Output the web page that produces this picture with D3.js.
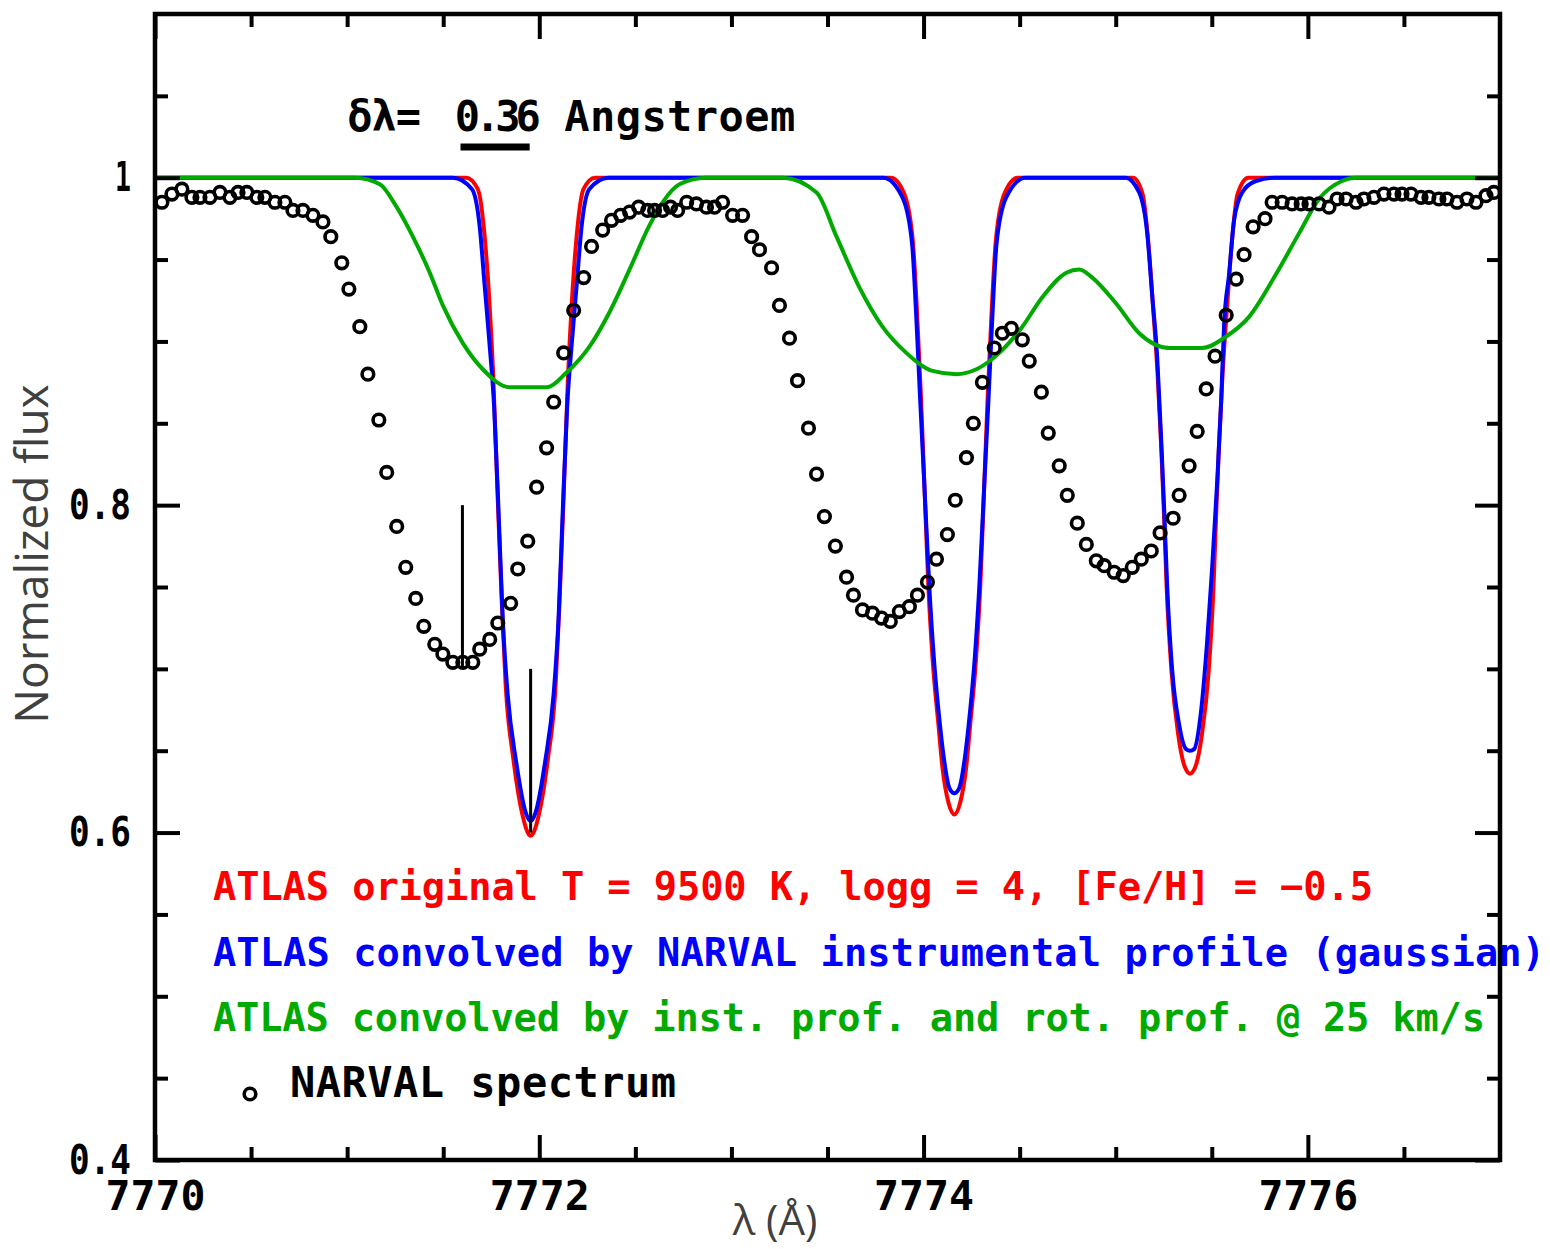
<!DOCTYPE html>
<html>
<head>
<meta charset="utf-8">
<script src="https://cdn.jsdelivr.net/npm/d3@7"></script>
<style>
  body { margin: 0; background: #fff; }
</style>
</head>
<body>
<script>
// NARVAL observed spectrum: [wavelength (Å), normalized flux]
const narval = [
  [7770.036,0.985],[7770.088,0.990],[7770.140,0.993],[7770.192,0.988],[7770.234,0.988],
  [7770.286,0.988],[7770.338,0.991],[7770.390,0.988],[7770.432,0.991],[7770.478,0.991],
  [7770.530,0.988],[7770.572,0.988],[7770.624,0.985],[7770.676,0.985],[7770.718,0.980],
  [7770.770,0.980],[7770.822,0.977],[7770.874,0.973],[7770.915,0.964],[7770.972,0.948],
  [7771.009,0.932],[7771.066,0.909],[7771.108,0.880],[7771.165,0.852],[7771.206,0.820],
  [7771.258,0.787],[7771.305,0.762],[7771.357,0.743],[7771.399,0.726],[7771.456,0.715],
  [7771.498,0.709],[7771.550,0.704],[7771.602,0.704],[7771.654,0.704],[7771.690,0.712],
  [7771.742,0.718],[7771.784,0.728],[7771.851,0.740],[7771.888,0.761],[7771.940,0.778],
  [7771.986,0.811],[7772.038,0.835],[7772.075,0.863],[7772.127,0.893],[7772.179,0.919],
  [7772.231,0.939],[7772.272,0.958],[7772.330,0.968],[7772.376,0.974],[7772.423,0.977],
  [7772.470,0.979],[7772.517,0.982],[7772.564,0.980],[7772.600,0.980],[7772.642,0.980],
  [7772.683,0.982],[7772.720,0.980],[7772.767,0.985],[7772.818,0.984],[7772.870,0.982],
  [7772.912,0.982],[7772.954,0.985],[7773.006,0.977],[7773.058,0.977],[7773.105,0.964],
  [7773.146,0.956],[7773.209,0.945],[7773.250,0.922],[7773.302,0.902],[7773.344,0.876],
  [7773.401,0.847],[7773.443,0.819],[7773.484,0.793],[7773.541,0.775],[7773.599,0.756],
  [7773.635,0.745],[7773.682,0.736],[7773.734,0.734],[7773.781,0.731],[7773.827,0.729],
  [7773.874,0.735],[7773.926,0.738],[7773.968,0.745],[7774.020,0.753],[7774.067,0.767],
  [7774.124,0.782],[7774.165,0.803],[7774.223,0.829],[7774.259,0.850],[7774.306,0.875],
  [7774.368,0.896],[7774.410,0.905],[7774.457,0.908],[7774.514,0.901],[7774.550,0.888],
  [7774.613,0.869],[7774.649,0.844],[7774.706,0.824],[7774.748,0.806],[7774.800,0.789],
  [7774.847,0.776],[7774.899,0.766],[7774.940,0.763],[7774.992,0.759],[7775.039,0.757],
  [7775.086,0.762],[7775.133,0.767],[7775.185,0.772],[7775.231,0.783],[7775.299,0.792],
  [7775.330,0.806],[7775.382,0.824],[7775.424,0.845],[7775.471,0.871],[7775.517,0.891],
  [7775.575,0.916],[7775.627,0.938],[7775.668,0.953],[7775.715,0.970],[7775.777,0.975],
  [7775.814,0.985],[7775.866,0.985],[7775.918,0.984],[7775.965,0.984],[7776.006,0.984],
  [7776.058,0.984],[7776.110,0.982],[7776.152,0.987],[7776.199,0.987],[7776.251,0.985],
  [7776.292,0.987],[7776.344,0.988],[7776.396,0.990],[7776.448,0.990],[7776.490,0.990],
  [7776.537,0.990],[7776.589,0.988],[7776.630,0.988],[7776.682,0.987],[7776.724,0.987],
  [7776.776,0.985],[7776.828,0.987],[7776.875,0.985],[7776.927,0.989],[7776.968,0.991]
]

// ATLAS original model
const atlasRed = [
  [7770.00,1.000],[7771.62,1.000],[7771.68,0.993],[7771.715,0.965],[7771.74,0.925],
  [7771.76,0.880],[7771.785,0.800],[7771.805,0.740],[7771.825,0.690],[7771.865,0.645],
  [7771.91,0.612],[7771.94,0.600],[7771.955,0.598],[7771.97,0.600],[7772.00,0.612],
  [7772.045,0.645],[7772.085,0.690],[7772.105,0.740],[7772.125,0.800],[7772.15,0.880],
  [7772.17,0.925],[7772.195,0.965],[7772.23,0.993],[7772.29,1.000],
  [7773.83,1.000],[7773.90,0.990],[7773.945,0.960],[7773.965,0.920],[7773.985,0.870],
  [7774.005,0.810],[7774.025,0.750],[7774.047,0.706],[7774.078,0.665],[7774.098,0.640],
  [7774.13,0.618],[7774.16,0.611],[7774.19,0.618],[7774.222,0.640],[7774.242,0.665],
  [7774.273,0.706],[7774.295,0.750],[7774.315,0.810],[7774.335,0.870],[7774.355,0.920],
  [7774.375,0.960],[7774.42,0.990],[7774.49,1.000],
  [7775.09,1.000],[7775.14,0.990],[7775.17,0.960],[7775.195,0.920],[7775.218,0.880],
  [7775.237,0.835],[7775.25,0.798],[7775.265,0.750],[7775.29,0.699],[7775.325,0.660],
  [7775.36,0.640],[7775.387,0.636],[7775.414,0.640],[7775.449,0.660],[7775.484,0.699],
  [7775.509,0.750],[7775.524,0.798],[7775.537,0.835],[7775.556,0.880],[7775.579,0.920],
  [7775.604,0.960],[7775.634,0.990],[7775.69,1.000],[7777.00,1.000]
]

// ATLAS convolved by the instrumental profile
const atlasBlue = [
  [7770.00,1.000],[7771.55,1.000],[7771.65,0.993],[7771.69,0.970],[7771.715,0.935],
  [7771.74,0.900],[7771.765,0.860],[7771.79,0.790],[7771.81,0.730],[7771.835,0.685],
  [7771.88,0.643],[7771.93,0.612],[7771.955,0.607],[7771.98,0.612],[7772.03,0.643],
  [7772.075,0.685],[7772.10,0.730],[7772.12,0.790],[7772.145,0.860],[7772.17,0.900],
  [7772.195,0.935],[7772.22,0.970],[7772.26,0.993],[7772.36,1.000],
  [7773.79,1.000],[7773.89,0.988],[7773.94,0.960],[7773.96,0.920],[7773.98,0.870],
  [7774.005,0.810],[7774.03,0.750],[7774.054,0.706],[7774.086,0.665],[7774.106,0.645],
  [7774.135,0.627],[7774.16,0.624],[7774.185,0.627],[7774.214,0.645],[7774.234,0.665],
  [7774.266,0.706],[7774.29,0.750],[7774.315,0.810],[7774.34,0.870],[7774.36,0.920],
  [7774.38,0.960],[7774.43,0.988],[7774.53,1.000],
  [7775.05,1.000],[7775.122,0.991],[7775.164,0.966],[7775.19,0.928],[7775.216,0.890],
  [7775.237,0.839],[7775.252,0.798],[7775.268,0.750],[7775.294,0.699],[7775.33,0.666],
  [7775.366,0.651],[7775.387,0.650],[7775.408,0.651],[7775.444,0.674],[7775.476,0.717],
  [7775.502,0.762],[7775.528,0.814],[7775.549,0.864],[7775.564,0.910],[7775.59,0.941],
  [7775.616,0.974],[7775.658,0.991],[7775.73,0.998],[7775.83,1.000],[7777.00,1.000]
]

// ATLAS convolved by instrumental + rotational profile (25 km/s)
const atlasGreen = [
  [7770.00,1.000],[7771.04,1.000],[7771.17,0.996],[7771.258,0.982],[7771.342,0.964],
  [7771.43,0.942],[7771.498,0.922],[7771.602,0.899],[7771.706,0.883],[7771.846,0.872],
  [7772.038,0.872],[7772.142,0.881],[7772.262,0.897],[7772.366,0.918],[7772.47,0.944],
  [7772.574,0.971],[7772.642,0.985],[7772.73,0.996],[7772.87,1.000],[7773.266,1.000],
  [7773.443,0.991],[7773.547,0.964],[7773.666,0.933],[7773.786,0.909],[7773.91,0.893],
  [7774.046,0.882],[7774.171,0.880],[7774.275,0.883],[7774.394,0.893],[7774.514,0.909],
  [7774.618,0.927],[7774.743,0.942],[7774.81,0.944],[7774.878,0.939],[7775.003,0.923],
  [7775.122,0.905],[7775.278,0.896],[7775.45,0.896],[7775.575,0.903],[7775.694,0.915],
  [7775.834,0.941],[7775.954,0.966],[7776.058,0.987],[7776.178,0.998],[7776.251,1.000],
  [7777.00,1.000]
]

// vertical marker lines: [wavelength, flux top, flux bottom]
const markerLines = [[7771.60, 0.80, 0.70], [7771.955, 0.70, 0.60]]
// resolution bar (0.36 Å)
const deltaBar = [7771.59, 7771.95]

const xMajorTicks = [7770, 7772, 7774, 7776]
const xMinorTicks = [7770.5, 7771, 7771.5, 7772.5, 7773, 7773.5, 7774.5, 7775, 7775.5, 7776.5]
const yMajorTicks = [0.4, 0.6, 0.8, 1.0]
const yTickLabels = ['0.4', '0.6', '0.8', '1']
const yMinorTicks = [0.45, 0.5, 0.55, 0.65, 0.7, 0.75, 0.85, 0.9, 0.95, 1.05]

const legendItems = [
  {text: 'ATLAS original T = 9500 K, logg = 4, [Fe/H] = \u22120.5', color: '#ff0000', width: 1160},
  {text: 'ATLAS convolved by NARVAL instrumental profile (gaussian)', color: '#0000ff', width: 1332},
  {text: 'ATLAS convolved by inst. prof. and rot. prof. @ 25 km/s', color: '#00aa00', width: 1272},
]

const W = 1550, H = 1249
const plotFont = '"DejaVu Sans Mono", monospace'

const svg = d3.select('body').append('svg')
  .attr('width', W)
  .attr('height', H)

const x = d3.scaleLinear().domain([7770, 7777]).range([155, 1500])
const y = d3.scaleLinear().domain([0.4, 1.1]).range([1160, 14])

const line = d3.line()
  .x(d => x(d[0]))
  .y(d => y(d[1]))
  .curve(d3.curveMonotoneX)

// Model curves
const curves = [[atlasRed, '#ff0000'], [atlasBlue, '#0000ff'], [atlasGreen, '#00aa00']]
svg.append('g').selectAll('path')
  .data(curves)
  .join('path')
  .attr('d', d => line(d[0]))
  .attr('fill', 'none')
  .attr('stroke', d => d[1])
  .attr('stroke-width', 4)
  .attr('stroke-linejoin', 'round')

// Observed spectrum
svg.append('g').selectAll('circle')
  .data(narval)
  .join('circle')
  .attr('cx', d => x(d[0]))
  .attr('cy', d => y(d[1]))
  .attr('r', 5.8)
  .attr('fill', 'none')
  .attr('stroke', '#000')
  .attr('stroke-width', 3.6)

// Marker lines
svg.append('g').selectAll('line')
  .data(markerLines)
  .join('line')
  .attr('x1', d => x(d[0]))
  .attr('x2', d => x(d[0]))
  .attr('y1', d => y(d[1]))
  .attr('y2', d => y(d[2]))
  .attr('stroke', '#000')
  .attr('stroke-width', 3)

// Resolution annotation
const ann = svg.append('g')
  .attr('font-family', plotFont)
  .attr('font-weight', 'bold')
  .attr('font-size', 42)
  .attr('fill', '#000')
ann.append('text').attr('x', x(7771.0)).attr('y', 131).attr('textLength', 74).text('δλ=')
ann.append('text').attr('x', x(7771.56)).attr('y', 131).attr('textLength', 86).text('0.36')
ann.append('text').attr('x', x(7772.13)).attr('y', 131).attr('textLength', 231).text('Angstroem')
ann.append('line')
  .attr('x1', x(deltaBar[0])).attr('x2', x(deltaBar[1]))
  .attr('y1', 147).attr('y2', 147)
  .attr('stroke', '#000')
  .attr('stroke-width', 7)

// Legend
const legend = svg.append('g')
  .attr('font-family', plotFont)
  .attr('font-weight', 'bold')
  .attr('font-size', 38.7)
legend.selectAll('text.item')
  .data(legendItems)
  .join('text')
  .attr('class', 'item')
  .attr('x', 213)
  .attr('y', (d, i) => 900 + i * 65.5)
  .attr('fill', d => d.color)
  .attr('textLength', d => d.width)
  .attr('lengthAdjust', 'spacing')
  .text(d => d.text)
legend.append('circle')
  .attr('cx', 250).attr('cy', 1094).attr('r', 5.8)
  .attr('fill', 'none').attr('stroke', '#000').attr('stroke-width', 3.6)
legend.append('text')
  .attr('x', 290).attr('y', 1097)
  .attr('fill', '#000')
  .attr('font-size', 42)
  .attr('textLength', 386)
  .text('NARVAL spectrum')

// Axes: frame, ticks on all four sides pointing inward
function ticks(axis, values, size, pos, labels) {
  const g = svg.append('g')
    .attr('transform', pos)
    .call(axis.tickValues(values).tickSize(-size).tickFormat(labels ? (d, i) => labels[i] : ''))
  g.select('.domain').remove()
  g.selectAll('.tick line').attr('stroke-width', 4)
  return g
}
const bottom = ticks(d3.axisBottom(x).tickPadding(20.5), xMajorTicks, 25, 'translate(0,1160)', xMajorTicks.map(String))
ticks(d3.axisBottom(x), xMinorTicks, 13, 'translate(0,1160)')
ticks(d3.axisTop(x), xMajorTicks, 25, 'translate(0,14)')
ticks(d3.axisTop(x), xMinorTicks, 13, 'translate(0,14)')
const left = ticks(d3.axisLeft(y).tickPadding(24), yMajorTicks, 25, 'translate(155,0)', yTickLabels)
ticks(d3.axisLeft(y), yMinorTicks, 13, 'translate(155,0)')
ticks(d3.axisRight(y), yMajorTicks, 25, 'translate(1500,0)')
ticks(d3.axisRight(y), yMinorTicks, 13, 'translate(1500,0)')

for (const g of [bottom, left]) {
  g.attr('font-family', plotFont)
    .attr('font-size', 41.5)
    .attr('font-weight', 'bold')
  g.selectAll('text').attr('fill', '#000')
}
// the y labels are set tighter than the mono advance
left.selectAll('.tick text')
  .attr('textLength', (d, i) => yTickLabels[i].length > 1 ? 62 : 16)
  .attr('lengthAdjust', 'spacingAndGlyphs')

svg.append('rect')
  .attr('x', x(7770)).attr('y', y(1.1))
  .attr('width', x(7777) - x(7770))
  .attr('height', y(0.4) - y(1.1))
  .attr('fill', 'none')
  .attr('stroke', '#000')
  .attr('stroke-width', 4.5)

// Axis titles
svg.append('text')
  .attr('transform', 'translate(48,554) rotate(-90)')
  .attr('text-anchor', 'middle')
  .attr('font-family', '"Open Sans", sans-serif')
  .attr('font-size', 46)
  .attr('fill', '#404040')
  .text('Normalized flux')
svg.append('text')
  .attr('x', 775).attr('y', 1235)
  .attr('text-anchor', 'middle')
  .attr('font-family', '"Open Sans", sans-serif')
  .attr('font-size', 42)
  .attr('fill', '#404040')
  .text('λ (Å)')
</script>
</body>
</html>
